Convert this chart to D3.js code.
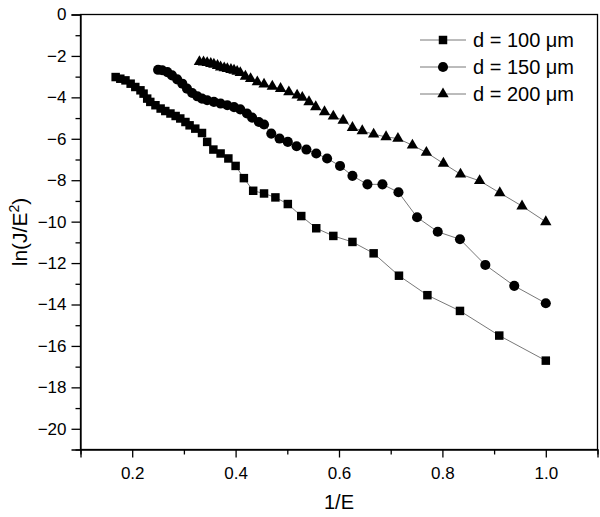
<!DOCTYPE html>
<html lang="en">
<head>
    <meta charset="UTF-8">
    <script src="https://cdn.jsdelivr.net/npm/d3@7"></script>
    <title>ln(J/E2) vs 1/E</title>
    <style>
        body { margin: 0; background: #fff; }
        text { font-family: Arial, "Liberation Sans", sans-serif; fill: #000; }
    </style>
</head>
<body>
<script>
// d = 100 um (squares)
let x100 = [0.168,0.177,0.187,0.197,0.206,0.216,0.222,0.229,0.235,0.245,0.255,0.264,0.274,0.284,0.293,0.303,0.311,0.322,0.335,0.345,0.357,0.371,0.386,0.400,0.416,0.434,0.455,0.477,0.501,0.527,0.556,0.589,0.626,0.667,0.716,0.771,0.834,0.910,1.000]
let y100 = [-3.02,-3.10,-3.18,-3.34,-3.50,-3.66,-3.82,-4.06,-4.22,-4.38,-4.54,-4.66,-4.78,-4.90,-5.02,-5.19,-5.35,-5.51,-5.72,-6.15,-6.52,-6.71,-6.95,-7.31,-7.90,-8.51,-8.64,-8.83,-9.15,-9.73,-10.32,-10.69,-10.98,-11.53,-12.61,-13.55,-14.31,-15.50,-16.71]
// d = 150 um (circles)
let x150 = [0.250,0.258,0.268,0.277,0.287,0.297,0.306,0.316,0.326,0.335,0.345,0.358,0.371,0.384,0.397,0.409,0.422,0.432,0.445,0.455,0.469,0.485,0.501,0.518,0.537,0.556,0.577,0.602,0.626,0.655,0.684,0.715,0.751,0.791,0.834,0.883,0.939,1.000]
let y150 = [-2.67,-2.69,-2.78,-2.94,-3.13,-3.34,-3.58,-3.79,-3.95,-4.06,-4.14,-4.22,-4.30,-4.38,-4.47,-4.58,-4.78,-4.98,-5.19,-5.31,-5.75,-5.99,-6.15,-6.36,-6.52,-6.71,-6.95,-7.31,-7.79,-8.20,-8.20,-8.58,-9.79,-10.49,-10.85,-12.09,-13.10,-13.94]
// d = 200 um (triangles)
let x200 = [0.330,0.338,0.345,0.352,0.358,0.365,0.371,0.378,0.384,0.391,0.397,0.403,0.409,0.419,0.429,0.442,0.455,0.471,0.487,0.503,0.519,0.529,0.542,0.555,0.572,0.589,0.608,0.626,0.645,0.667,0.691,0.714,0.742,0.769,0.802,0.835,0.872,0.911,0.954,1.000]
let y200 = [-2.28,-2.30,-2.33,-2.37,-2.41,-2.47,-2.54,-2.58,-2.62,-2.66,-2.70,-2.75,-2.81,-2.99,-3.10,-3.26,-3.37,-3.47,-3.58,-3.74,-3.90,-4.01,-4.22,-4.46,-4.70,-4.91,-5.11,-5.46,-5.62,-5.78,-5.91,-5.99,-6.31,-6.66,-7.19,-7.71,-8.03,-8.61,-9.25,-10.01]

let labels = ["d = 100 \u03bcm", "d = 150 \u03bcm", "d = 200 \u03bcm"]
let xTicks = [0.2, 0.4, 0.6, 0.8, 1.0]
let yTicks = [0, -2, -4, -6, -8, -10, -12, -14, -16, -18, -20]

let width = 600
let height = 517
let mLeft = 80.5, mRight = 597.5, mTop = 14.5, mBottom = 449.5

let svg = d3.select("body").append("svg")
    .attr("width", width)
    .attr("height", height)

let x = d3.scaleLinear().domain([0.1, 1.1]).range([mLeft, mRight])
let y = d3.scaleLinear().domain([-21, 0]).range([mBottom, mTop])

// frame
svg.append("rect")
    .attr("x", mLeft).attr("y", mTop)
    .attr("width", mRight - mLeft).attr("height", mBottom - mTop)
    .attr("fill", "none").attr("stroke", "#000").attr("stroke-width", 1.3)

// x axis: major + minor ticks
let xMinor = d3.range(0.1, 1.15, 0.2)
svg.append("g")
    .attr("transform", `translate(0,${mBottom})`)
    .call(d3.axisBottom(x).tickValues(xMinor).tickSize(5).tickFormat(""))
    .call(g => g.select(".domain").remove())
let gx = svg.append("g")
    .attr("transform", `translate(0,${mBottom})`)
    .call(d3.axisBottom(x).tickValues(xTicks).tickSize(8).tickPadding(9).tickFormat(d3.format(".1f")))
gx.select(".domain").attr("stroke-width", 1.3)
gx.selectAll("text").style("font-size", "17px")

// y axis
let yMinor = d3.range(-1, -22, -2)
svg.append("g")
    .attr("transform", `translate(${mLeft},0)`)
    .call(d3.axisLeft(y).tickValues(yMinor).tickSize(5).tickFormat(""))
    .call(g => g.select(".domain").remove())
let gy = svg.append("g")
    .attr("transform", `translate(${mLeft},0)`)
    .call(d3.axisLeft(y).tickValues(yTicks).tickSize(9).tickPadding(5).tickFormat(d3.format("d")))
gy.select(".domain").attr("stroke-width", 1.3)
gy.selectAll("text").style("font-size", "17px")
svg.selectAll(".tick line").attr("stroke-width", 1.3)

// axis titles
svg.append("text")
    .attr("x", (mLeft + mRight) / 2).attr("y", 509)
    .attr("text-anchor", "middle")
    .style("font-size", "20px")
    .text("1/E")

let yt = svg.append("text")
    .attr("transform", `translate(27,${(mTop + mBottom) / 2}) rotate(-90)`)
    .attr("text-anchor", "middle")
    .style("font-size", "21px")
yt.append("tspan").text("ln(J/E")
yt.append("tspan").attr("dy", -8).style("font-size", "14px").text("2")
yt.append("tspan").attr("dy", 8).text(")")

let series = [
    {xs: x100, ys: y100, sym: d3.symbolSquare, size: 72},
    {xs: x150, ys: y150, sym: d3.symbolCircle, size: 80},
    {xs: x200, ys: y200, sym: d3.symbolTriangle, size: 56}
]

let line = d3.line().x(d => x(d[0])).y(d => y(d[1]))

series.forEach(s => {
    let pts = s.xs.map((v, i) => [v, s.ys[i]])
    svg.append("path")
        .attr("d", line(pts))
        .attr("fill", "none")
        .attr("stroke", "#555")
        .attr("stroke-width", 0.8)
    svg.append("g").selectAll("path")
        .data(pts)
        .join("path")
        .attr("transform", d => `translate(${x(d[0])},${y(d[1])})`)
        .attr("d", d3.symbol().type(s.sym).size(s.size))
        .attr("fill", "#000")
})

// legend
let legend = svg.append("g")
series.forEach((s, i) => {
    let ly = 40 + i * 27
    legend.append("line")
        .attr("x1", 420).attr("x2", 466)
        .attr("y1", ly).attr("y2", ly)
        .attr("stroke", "#555").attr("stroke-width", 0.8)
    legend.append("path")
        .attr("transform", `translate(443,${ly})`)
        .attr("d", d3.symbol().type(s.sym).size(s.size))
        .attr("fill", "#000")
    legend.append("text")
        .attr("x", 473).attr("y", ly)
        .attr("dy", "0.35em")
        .style("font-size", "20px")
        .text(labels[i])
})
</script>
</body>
</html>
